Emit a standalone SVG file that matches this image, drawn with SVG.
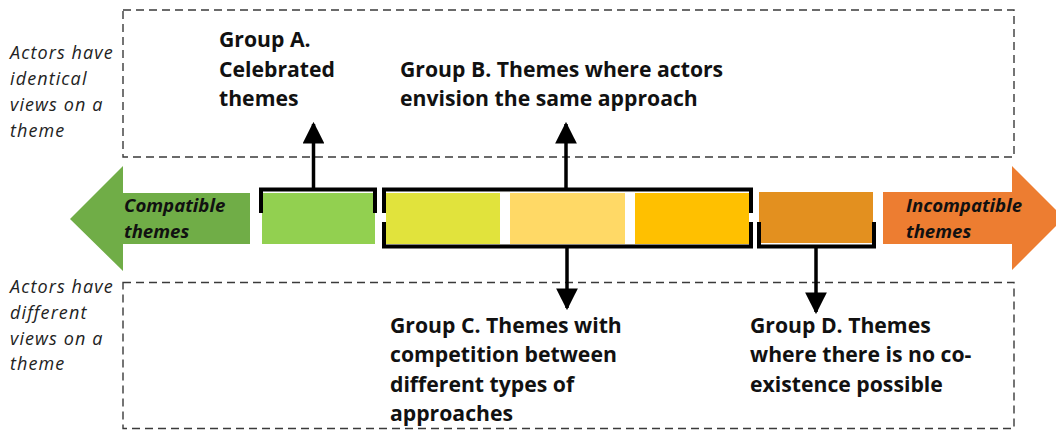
<svg xmlns="http://www.w3.org/2000/svg" width="1056" height="430" viewBox="0 0 1056 430">
  <style>
    .zone { fill: none; stroke: #3a3a3a; stroke-width: 1.4; stroke-dasharray: 8 5; }
    .side { font-family: "Open Sans", "Liberation Sans", sans-serif; font-style: italic; font-size: 18px; letter-spacing: 1.1px; fill: #222; }
    .dir { font-family: "Open Sans", "Liberation Sans", sans-serif; font-style: italic; font-weight: bold; font-size: 18.6px; fill: #111; }
    .grp { font-family: "Open Sans", "Liberation Sans", sans-serif; font-weight: bold; font-size: 21.2px; fill: #111; }
    .brk { fill: none; stroke: #000; stroke-width: 4; stroke-linejoin: miter; }
    .stem { stroke: #000; stroke-width: 3.5; fill: none; }
  </style>
  <defs>
    <marker id="head" viewBox="0 0 10 10" refX="9" refY="5" markerWidth="6.2" markerHeight="6.2" markerUnits="strokeWidth" orient="auto">
      <path d="M0,0 L10,5 L0,10 Z" fill="#000"/>
    </marker>
  </defs>

  <rect width="1056" height="430" fill="#fff"/>

  <!-- dashed zones: identical views (top) and different views (bottom) -->
  <g id="zones">
    <rect class="zone" x="123" y="10" width="891" height="147"/>
    <rect class="zone" x="123" y="282.5" width="891" height="146"/>
  </g>

  <!-- side captions -->
  <g id="caption-identical">
    <text class="side" x="10" y="59">Actors have</text>
    <text class="side" x="10" y="85">identical</text>
    <text class="side" x="10" y="111">views on a</text>
    <text class="side" x="10" y="137">theme</text>
  </g>
  <g id="caption-different">
    <text class="side" x="10" y="293">Actors have</text>
    <text class="side" x="10" y="319">different</text>
    <text class="side" x="10" y="345">views on a</text>
    <text class="side" x="10" y="370">theme</text>
  </g>

  <!-- direction arrows -->
  <g id="compatible">
    <path d="M70,219 L123,166 L123,193 L250,193 L250,244 L123,244 L123,271 Z" fill="#70AD47"/>
    <text class="dir" x="124" y="212">Compatible</text>
    <text class="dir" x="124" y="238">themes</text>
  </g>
  <g id="incompatible">
    <path d="M883,192 L1012,192 L1012,166 L1064,218 L1012,270 L1012,244 L883,244 Z" fill="#ED7D31"/>
    <text class="dir" x="906" y="212">Incompatible</text>
    <text class="dir" x="906" y="238">themes</text>
  </g>

  <!-- theme blocks along the scale -->
  <g id="theme-1"><rect x="262" y="193" width="113" height="51" fill="#92D050"/></g>
  <g id="theme-2"><rect x="386" y="193" width="114" height="51" fill="#E1E33C"/></g>
  <g id="theme-3"><rect x="510" y="193" width="115" height="51" fill="#FFD966"/></g>
  <g id="theme-4"><rect x="635" y="193" width="114" height="51" fill="#FFC000"/></g>
  <g id="theme-5"><rect x="759" y="192" width="114" height="51" fill="#E3901F"/></g>

  <!-- group labels -->
  <g id="group-a">
    <text class="grp" x="219" y="47">Group A.</text>
    <text class="grp" x="219" y="76.5">Celebrated</text>
    <text class="grp" x="219" y="106">themes</text>
  </g>
  <g id="group-b">
    <text class="grp" x="400" y="76.5">Group B. Themes where actors</text>
    <text class="grp" x="400" y="106">envision the same approach</text>
  </g>
  <g id="group-c">
    <text class="grp" x="390" y="333">Group C. Themes with</text>
    <text class="grp" x="390" y="362">competition between</text>
    <text class="grp" x="390" y="392">different types of</text>
    <text class="grp" x="390" y="421">approaches</text>
  </g>
  <g id="group-d">
    <text class="grp" x="750" y="333">Group D. Themes</text>
    <text class="grp" x="750" y="362">where there is no co-</text>
    <text class="grp" x="750" y="392">existence possible</text>
  </g>

  <!-- brackets and pointer arrows -->
  <g id="connectors">
    <path class="brk" d="M261,213 L261,189.5 L375,189.5 L375,213"/>
    <path class="brk" d="M384,213 L384,189.5 L751,189.5 L751,213"/>
    <path class="brk" d="M384,222 L384,246.5 L751,246.5 L751,222"/>
    <path class="brk" d="M759,222 L759,246.5 L874,246.5 L874,222"/>
    <line class="stem" x1="313.5" y1="188" x2="313.5" y2="124" marker-end="url(#head)"/>
    <line class="stem" x1="566" y1="188" x2="566" y2="124" marker-end="url(#head)"/>
    <line class="stem" x1="567" y1="248" x2="567" y2="308" marker-end="url(#head)"/>
    <line class="stem" x1="816" y1="248" x2="816" y2="312" marker-end="url(#head)"/>
  </g>
</svg>
